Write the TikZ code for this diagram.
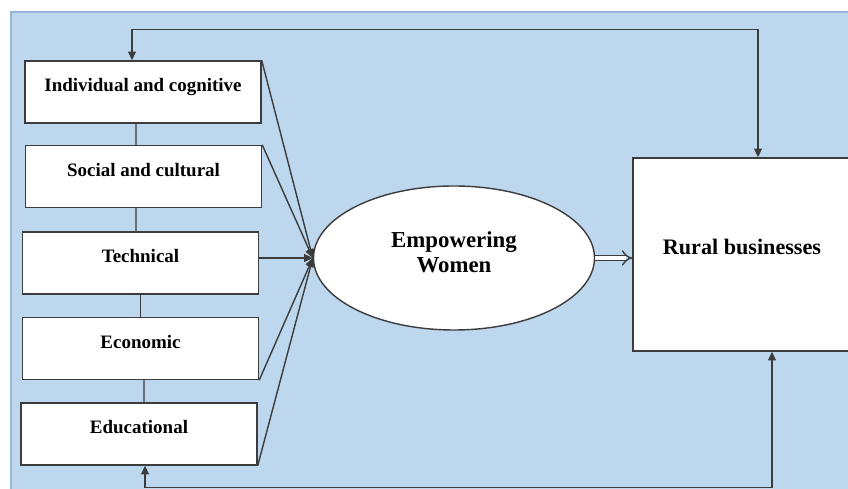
\documentclass[tikz,border=0pt]{standalone}
\usepackage{fontspec}
\setmainfont{Liberation Serif}
\usetikzlibrary{positioning,shapes.geometric,arrows.meta}

\definecolor{bgblue}{RGB}{189,215,238}
\definecolor{bgedge}{RGB}{150,182,214}
\definecolor{ink}{RGB}{60,60,60}

\tikzset{
  factor/.style={draw=ink, fill=white, line width=0.8pt, minimum width=47.2mm, minimum height=12.4mm,
    text height=7.5pt, text depth=8pt, font=\fontsize{10.8}{13}\selectfont\bfseries},
  link/.style={draw=ink, line width=0.8pt},
}

\begin{document}
\begin{tikzpicture}[x=0.2mm, y=-0.2mm, >={Triangle[length=5pt,width=4.5pt]}]
  \clip (0,0) rectangle (848,489);
  % background
  \fill[bgblue] (11,12) rectangle (848,489);
  \draw[bgedge, line width=0.8pt] (11,489) -- (11,12) -- (848,12);
  % factors
  \foreach \n/\x/\y/\t in {ind/143/92/Individual and cognitive, soc/143.5/176.5/Social and cultural,
      tec/140.5/263/Technical, eco/140.5/348.5/Economic, edu/139/434/Educational} {
    \node[factor] (\n) at (\x,\y) {\t};
  };
  \node[ellipse, draw=ink, fill=white, line width=0.8pt, minimum width=56.2mm, minimum height=28.8mm,
    align=center, font=\fontsize{13}{14.7}\selectfont\bfseries] (emp) at (454,258) {Empowering\\Women\\[-8pt]\mbox{}};
  \node[draw=ink, fill=white, line width=0.8pt, minimum width=43.6mm, minimum height=38.6mm,
    text height=8pt, text depth=8pt, font=\fontsize{12.6}{15}\selectfont\bfseries] (rural) at (742,254.5) {Rural businesses};
  % separator
  \foreach \a/\b/\s/\e in {ind/soc/-1.4mm/-1.5mm, soc/tec/-1.5mm/-0.9mm, tec/eco/0mm/0mm, eco/edu/0.7mm/1mm} {
    \draw[link] ([xshift=\s]\a.south) -- ([xshift=\e]\b.north);
  };
  % arrow
  \foreach \p in {ind.north east, soc.north east, tec.east |- emp.west, eco.south east, edu.south east} {
    \draw[link, ->] (\p) -- (emp.west);
  };
  \draw[link, double, double distance=2.2pt, -{Implies}] (emp.east) -- (emp.east -| rural.west);
  \draw[link, <->] ([xshift=-2.2mm]ind.north) -- ++(0,-31) -| ([xshift=3.2mm]rural.north);
  \draw[link, <->] ([xshift=1.2mm]edu.south) -- ++(0,22) -| ([xshift=6mm]rural.south);
\end{tikzpicture}
\end{document}
